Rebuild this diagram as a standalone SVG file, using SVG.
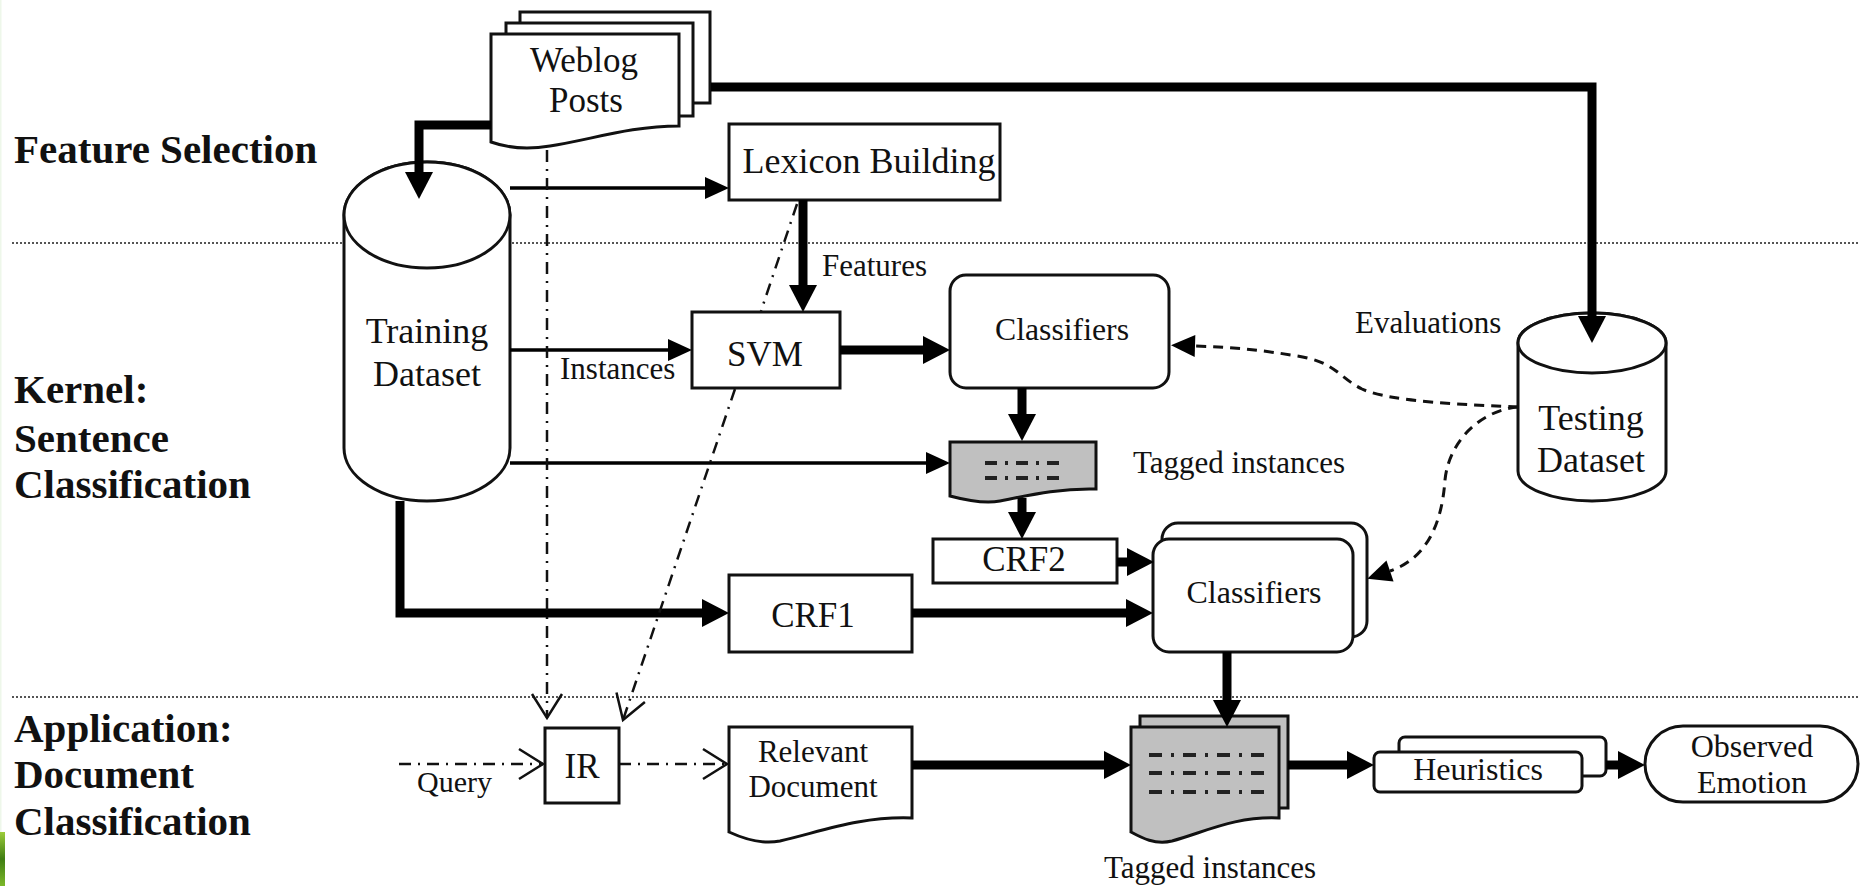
<svg xmlns="http://www.w3.org/2000/svg" width="1860" height="886" viewBox="0 0 1860 886">
  <defs>
    <style>
      .box { fill: #fff; stroke: #111; stroke-width: 3; }
      .gray { fill: #c0c0c0; stroke: #111; stroke-width: 3; }
      .t { font-family: "Liberation Serif", "Times New Roman", serif; fill: #111; }
      .mid { text-anchor: middle; }
      .lane { font-family: "Liberation Serif", "Times New Roman", serif; font-weight: bold; font-size: 41px; fill: #111; }
      .sep { stroke: #555; stroke-width: 2; stroke-dasharray: 2 2; fill: none; }
      .thick { stroke: #000; stroke-width: 9; fill: none; marker-end: url(#headThick); }
      .thin { stroke: #000; stroke-width: 3.5; fill: none; marker-end: url(#headThin); }
      .dashed { stroke: #111; stroke-width: 3; stroke-dasharray: 10 7; fill: none; marker-end: url(#headDash); }
      .dashdot { stroke: #111; stroke-width: 2.5; stroke-dasharray: 12 7 2 7; fill: none; }
      .open { marker-end: url(#headOpen); }
      .marks { stroke: #222; stroke-width: 4; fill: none; }
    </style>
    <marker id="headThick" markerUnits="userSpaceOnUse" viewBox="0 -16 30 32" refX="0" refY="0" markerWidth="30" markerHeight="32" orient="auto" overflow="visible">
      <path d="M0,-14 L27,0 L0,14 Z" fill="#000"/>
    </marker>
    <marker id="headThin" markerUnits="userSpaceOnUse" viewBox="0 -13 26 26" refX="0" refY="0" markerWidth="26" markerHeight="26" orient="auto" overflow="visible">
      <path d="M0,-11 L24,0 L0,11 Z" fill="#000"/>
    </marker>
    <marker id="headDash" markerUnits="userSpaceOnUse" viewBox="0 -13 26 26" refX="0" refY="0" markerWidth="26" markerHeight="26" orient="auto" overflow="visible">
      <path d="M0,-11 L24,0 L0,11 Z" fill="#000"/>
    </marker>
    <marker id="headOpen" markerUnits="userSpaceOnUse" viewBox="-28 -17 30 34" refX="0" refY="0" markerWidth="30" markerHeight="34" orient="auto" overflow="visible">
      <path d="M-24,-15 L0,0 L-24,15" fill="none" stroke="#111" stroke-width="2.5"/>
    </marker>
    <linearGradient id="leaf" x1="0" y1="0" x2="0" y2="1">
      <stop offset="0" stop-color="#9ccc3a"/>
      <stop offset="0.5" stop-color="#3f7d12"/>
      <stop offset="1" stop-color="#7cb82a"/>
    </linearGradient>
  </defs>

  <rect width="1860" height="886" fill="#fff"/>
  <!-- slide edge trim -->
  <rect x="0" y="0" width="1.5" height="886" fill="#eef7ea"/>
  <rect x="0" y="832" width="5" height="54" fill="url(#leaf)"/>

  <!-- lane labels and separators -->
  <g id="lanes">
    <text class="lane" x="14" y="163">Feature Selection</text>
    <text class="lane" x="14" y="403">Kernel:</text>
    <text class="lane" x="14" y="452">Sentence</text>
    <text class="lane" x="14" y="498">Classification</text>
    <text class="lane" x="14" y="742">Application:</text>
    <text class="lane" x="14" y="788">Document</text>
    <text class="lane" x="14" y="835">Classification</text>
    <line class="sep" x1="12" y1="243" x2="1860" y2="243"/>
    <line class="sep" x1="12" y1="697" x2="1860" y2="697"/>
  </g>

  <!-- nodes -->
  <g id="weblog-posts">
    <rect class="box" x="520" y="12" width="190" height="91"/>
    <rect class="box" x="506" y="23" width="187" height="93"/>
    <path class="box" d="M491,34 H679 V126 C630,126 590,140 550,146 C525,150 505,147 491,142 Z"/>
    <text class="t mid" x="584" y="72" font-size="35">Weblog</text>
    <text class="t mid" x="586" y="112" font-size="35">Posts</text>
  </g>

  <g id="training-dataset">
    <path class="box" d="M344,215 V448 A83,53 0 0 0 510,448 V215 A83,53 0 0 0 344,215 Z"/>
    <ellipse class="box" cx="427" cy="215" rx="83" ry="53"/>
    <text class="t mid" x="427" y="343" font-size="36">Training</text>
    <text class="t mid" x="427" y="386" font-size="36">Dataset</text>
  </g>

  <g id="lexicon-building">
    <rect class="box" x="729" y="124" width="271" height="76"/>
    <text class="t mid" x="869" y="173" font-size="36">Lexicon Building</text>
  </g>

  <g id="svm">
    <rect class="box" x="692" y="312" width="148" height="76"/>
    <text class="t mid" x="765" y="366" font-size="35">SVM</text>
  </g>

  <g id="classifiers-svm">
    <rect class="box" x="950" y="275" width="219" height="113" rx="16"/>
    <text class="t mid" x="1062" y="340" font-size="31" textLength="134" lengthAdjust="spacingAndGlyphs">Classifiers</text>
  </g>

  <g id="tagged-instances-kernel">
    <path class="gray" d="M950,442 H1096 V489 C1060,488 1030,495 1000,501 C985,504 965,500 950,496 Z"/>
    <line class="marks" x1="985" y1="463" x2="1062" y2="463" stroke-dasharray="12 8 3 8"/>
    <line class="marks" x1="985" y1="478" x2="1062" y2="478" stroke-dasharray="12 8 3 8"/>
  </g>

  <g id="crf2">
    <rect class="box" x="933" y="539" width="184" height="44"/>
    <text class="t mid" x="1024" y="571" font-size="35">CRF2</text>
  </g>

  <g id="crf1">
    <rect class="box" x="729" y="575" width="183" height="77"/>
    <text class="t mid" x="813" y="627" font-size="35">CRF1</text>
  </g>

  <g id="classifiers-crf">
    <rect class="box" x="1162" y="523" width="205" height="114" rx="16"/>
    <rect class="box" x="1153" y="539" width="200" height="113" rx="16"/>
    <text class="t mid" x="1254" y="603" font-size="31" textLength="135" lengthAdjust="spacingAndGlyphs">Classifiers</text>
  </g>

  <g id="testing-dataset">
    <path class="box" d="M1518,343 V471 A74,30 0 0 0 1666,471 V343 A74,30 0 0 0 1518,343 Z"/>
    <ellipse class="box" cx="1592" cy="343" rx="74" ry="30"/>
    <text class="t mid" x="1591" y="430" font-size="36">Testing</text>
    <text class="t mid" x="1591" y="472" font-size="36">Dataset</text>
  </g>

  <g id="ir">
    <rect class="box" x="545" y="728" width="74" height="75"/>
    <text class="t mid" x="582" y="778" font-size="35">IR</text>
  </g>

  <g id="relevant-document">
    <path class="box" d="M729,727 H912 V818 C860,816 820,832 780,841 C760,845 742,838 729,832 Z"/>
    <text class="t mid" x="813" y="762" font-size="31">Relevant</text>
    <text class="t mid" x="813" y="797" font-size="31">Document</text>
  </g>

  <g id="tagged-instances-docs">
    <rect class="gray" x="1140" y="716" width="148" height="92"/>
    <path class="gray" d="M1131,727 H1279 V818 C1235,816 1205,832 1172,841 C1155,845 1142,838 1131,832 Z"/>
    <line class="marks" x1="1149" y1="755" x2="1264" y2="755" stroke-dasharray="13 9 3 9"/>
    <line class="marks" x1="1149" y1="773" x2="1264" y2="773" stroke-dasharray="13 9 3 9"/>
    <line class="marks" x1="1149" y1="792" x2="1264" y2="792" stroke-dasharray="13 9 3 9"/>
  </g>

  <g id="heuristics">
    <rect class="box" x="1399" y="737" width="207" height="39" rx="6"/>
    <rect class="box" x="1374" y="752" width="208" height="40" rx="6"/>
    <text class="t mid" x="1478" y="780" font-size="32">Heuristics</text>
  </g>

  <g id="observed-emotion">
    <rect class="box" x="1645" y="726" width="213" height="76" rx="38"/>
    <text class="t mid" x="1752" y="757" font-size="32">Observed</text>
    <text class="t mid" x="1752" y="793" font-size="32">Emotion</text>
  </g>

  <!-- connectors, drawn over the nodes so heads can reach into the cylinders -->
  <g id="connectors">
    <path class="thick" d="M491,125 H419 V172"/>
    <path class="thick" d="M711,87 H1592 V316"/>
    <path class="thin" d="M510,188 H705"/>
    <path class="thick" d="M803,200 V285"/>
    <path class="thin" d="M510,350 H668"/>
    <path class="thick" d="M840,350 H923"/>
    <path class="thick" d="M1022,388 V414"/>
    <path class="thin" d="M510,463 H926"/>
    <path class="thick" d="M1022,498 V512"/>
    <path class="thick" d="M1117,562 H1127"/>
    <path class="thick" d="M400,501 V613 H702"/>
    <path class="thick" d="M912,613 H1126"/>
    <path class="thick" d="M1227,652 V700"/>
    <path class="thick" d="M912,765 H1104"/>
    <path class="thick" d="M1288,765 H1347"/>
    <path class="thick" d="M1606,765 H1618"/>
    <path class="dashed" d="M1518,407 C1470,405 1390,402 1362,389 C1338,377 1336,362 1297,356 C1262,350 1230,347 1195,346"/>
    <path class="dashed" d="M1518,407 C1482,410 1449,440 1445,480 C1442,522 1428,558 1390,571"/>
    <path class="dashdot open" d="M547,150 V718"/>
    <!-- lexicon to IR runs behind the SVM box: two visible pieces -->
    <path class="dashdot" d="M797,204 L761,311"/>
    <path class="dashdot open" d="M735,389 L623,720"/>
    <path class="dashdot open" d="M399,764 H543"/>
    <path class="dashdot open" d="M619,764 H727"/>
    <text class="t" x="822" y="276" font-size="31">Features</text>
    <text class="t" x="560" y="379" font-size="31">Instances</text>
    <text class="t" x="1355" y="333" font-size="31">Evaluations</text>
    <text class="t" x="1133" y="473" font-size="31">Tagged instances</text>
    <text class="t" x="1104" y="878" font-size="31">Tagged instances</text>
    <text class="t" x="417" y="792" font-size="30">Query</text>
  </g>
</svg>
